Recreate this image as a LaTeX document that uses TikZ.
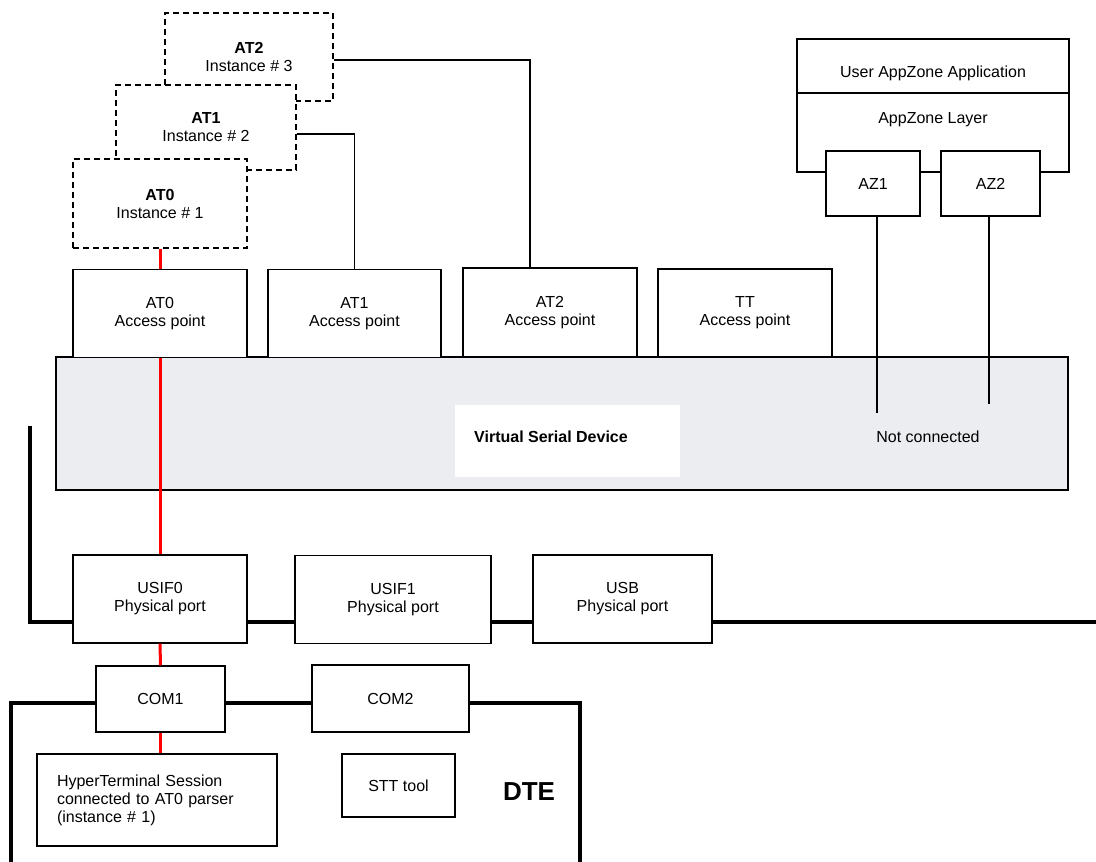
\documentclass[tikz,border=0pt]{standalone}
\usepackage{fontspec}
\setmainfont{Liberation Sans}
\usetikzlibrary{positioning, backgrounds}

\definecolor{vsdgray}{RGB}{236,237,240}

\begin{document}
\begin{tikzpicture}[x=1pt, y=-1pt, line width=1.2pt,
  box/.style={draw, fill=white, inner sep=0pt, align=center,
    font=\fontsize{16}{18}\selectfont},
  inst node/.style={box, dash pattern=on 6pt off 4pt},
  ap node/.style={box, minimum width=174pt, minimum height=88pt},
  port node/.style={box, minimum height=88pt},
  txt/.style={inner sep=0pt, align=center, font=\fontsize{16}{18}\selectfont},
  bus/.style={line width=4pt},
  redlink/.style={draw=red, line width=3pt}]

\useasboundingbox (0,0) rectangle (1096,862);

% parser instances
\node[inst node, minimum width=168pt, minimum height=88pt] (at2inst) at (249,57) {\textbf{AT2}\\Instance \# 3};
\node[inst node, minimum width=180pt, minimum height=85pt] (at1inst) at (206,127.5) {\textbf{AT1}\\Instance \# 2};
\node[inst node, minimum width=174pt, minimum height=89pt] (at0inst) at (160,203.5) {\textbf{AT0}\\Instance \# 1};

% appzone
\node[box, minimum width=272pt, minimum height=54pt] (azapp) at (933,66) {};
\node[txt] at (933,73) {User AppZone Application};
\node[box, minimum width=272pt, minimum height=79pt] (azlayer) at (933,132.5) {};
\node[txt] at (933,120) {AppZone Layer};
\node[box, minimum width=94pt, minimum height=65pt] (az1) at (873,183.5) {AZ1};
\node[box, minimum width=99pt, minimum height=65pt] (az2) at (990.5,183.5) {AZ2};

% virtual serial device
\node[draw, fill=vsdgray, minimum width=1012pt, minimum height=133pt, inner sep=0pt] (vsd) at (562,423.5) {};
\node[fill=white, minimum width=225pt, minimum height=72pt, inner sep=0pt] (vsdlabel) at (567.5,441) {};
\node[txt, font=\fontsize{16}{18}\selectfont\bfseries] at (551,437) {Virtual Serial Device};
\node[txt] (notconn) at (928,437) {Not connected};

% access points
\node[ap node] (at0ap) at (160,313.5) {AT0\\Access point};
\node[ap node, minimum width=173pt] (at1ap) at (354.5,313.5) {AT1\\Access point};
\node[ap node, minimum height=89pt] (at2ap) at (550,312.5) {AT2\\Access point};
\node[ap node] (ttap) at (745,313) {TT\\Access point};

% physical ports
\node[port node, minimum width=174pt] (usif0) at (160,599) {USIF0\\Physical port};
\node[port node, minimum width=196pt] (usif1) at (393,599.5) {USIF1\\Physical port};
\node[port node, minimum width=179pt] (usb) at (622.5,599) {USB\\Physical port};

% DTE side
\node[box, minimum width=129pt, minimum height=66pt] (com1) at (160.5,699) {COM1};
\node[box, minimum width=157pt, minimum height=67pt] (com2) at (390.5,698.5) {COM2};
\node[box, minimum width=240pt, minimum height=92pt, text width=200pt, inner xsep=20pt, align=left] (hyper) at (157,800) {HyperTerminal Session\\connected to AT0 parser\\(instance \# 1)};
\node[box, minimum width=113pt, minimum height=63pt] (stt) at (398.5,785.5) {STT tool};
\node[inner sep=0pt, font=\fontsize{26}{30}\selectfont\bfseries] (dte) at (529,792) {DTE};

\coordinate (bustop) at (30,426);
\coordinate (busend) at (1096,622);
\coordinate (dteleft) at (11,870);
\coordinate (dteright) at (580,870);
\coordinate (nc1) at (877,413);
\coordinate (nc2) at (989,404);

\begin{scope}[on background layer]
\draw[bus] (bustop) |- (busend);
\draw[bus] (dteleft) |- (com1.west |- 0,703) -| (dteright);
\end{scope}

% links
\draw ([yshift=-3pt]at2inst.east) -| ([xshift=-20pt]at2ap.north);
\draw ([yshift=-6.5pt]at1inst.east) -| (at1ap.north);
\draw (az1.south -| nc1) -- (nc1);
\draw (az2.south -| nc2) -- (nc2);

\path[redlink] (at0inst.south) edge (at0ap.north)
  (at0ap.south) edge (usif0.north)
  (usif0.south) edge (com1.north)
  (com1.south) edge (com1.south |- hyper.north);
\end{tikzpicture}
\end{document}
